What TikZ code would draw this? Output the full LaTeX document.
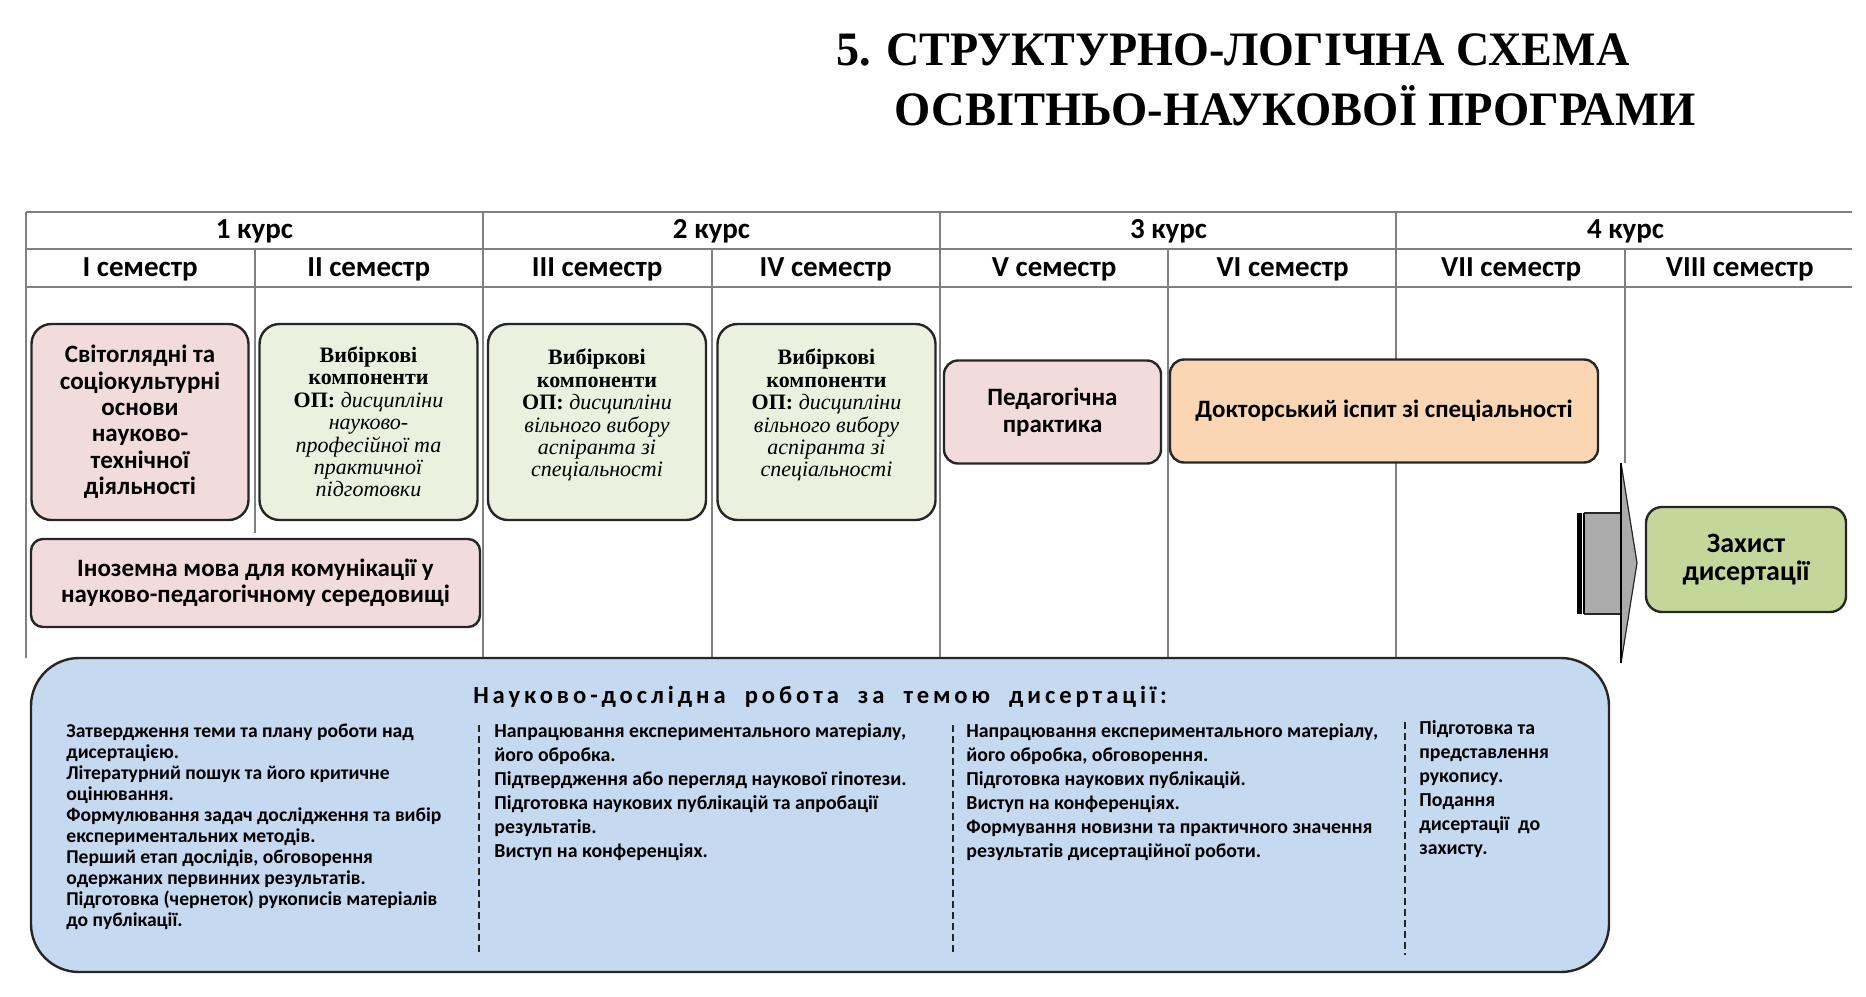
\documentclass[tikz,border=0pt]{standalone}
\usepackage{fontspec}
\setmainfont{Liberation Serif}
\setsansfont{Carlito}
\newfontfamily\spacedsans[LetterSpace=16]{Carlito}
\usepackage{graphicx}
\usetikzlibrary{positioning, calc}
\definecolor{pinkModule}{HTML}{F2DCDB}
\definecolor{greenElective}{HTML}{EBF1DE}
\definecolor{peachExam}{HTML}{FAD6B4}
\definecolor{blueResearch}{HTML}{C5D9F1}
\definecolor{greenDefense}{HTML}{C4D79B}
\definecolor{gridLine}{HTML}{808080}
\definecolor{arrowGray}{HTML}{ABABAB}
\definecolor{edgeDark}{HTML}{262626}
\newcommand{\vybirHead}{\textbf{Вибіркові}\\\textbf{компоненти}\\\textbf{ОП:}}

\begin{document}
\begin{tikzpicture}[x=0.5pt, y=-0.5pt,
        grid/.style={gridLine, line width=1pt},
        head/.style={font=\sffamily\bfseries\fontsize{14.5}{16}\selectfont, inner sep=0pt},
        module/.style={draw=edgeDark, fill=pinkModule, line width=1.2pt, rounded corners=10pt,
            align=center, inner sep=0pt, font=\sffamily\bfseries\fontsize{12.5}{13.2}\selectfont},
        elective/.style={module, fill=greenElective, font=\rmfamily\fontsize{11}{11.2}\selectfont},
        research/.style={draw=edgeDark, fill=blueResearch, line width=1.2pt, rounded corners=24pt},
        coltext/.style={anchor=north west, align=left, inner sep=0pt,
            font=\sffamily\bfseries\fontsize{9.9}{12}\selectfont},
        sep/.style={edgeDark, line width=0.8pt, dash pattern=on 3.5pt off 2pt}
    ]
        \useasboundingbox (0,0) rectangle (1866,996);

        % title
        \node[font=\rmfamily\bfseries\fontsize{24}{26}\selectfont, inner sep=0pt] (titul1) at (1233,50)
            {\scalebox{0.96}[1]{5. СТРУКТУРНО-ЛОГІЧНА СХЕМА}};
        \node[font=\rmfamily\bfseries\fontsize{24}{26}\selectfont, inner sep=0pt] (titul2) at (1295,106)
            {\scalebox{0.97}[1]{ОСВІТНЬО-НАУКОВОЇ ПРОГРАМИ}};

        % table grid
        \draw[grid, line width=1.4pt] (26,212) -- (1852,212);
        \draw[grid] (26,249) -- (1852,249);
        \draw[grid] (26,287) -- (1852,287);
        \foreach \x in {26,483,940,1396}
            \draw[grid] (\x,212) -- (\x,658);
        \foreach \x in {712,1168}
            \draw[grid] (\x,249) -- (\x,658);
        \draw[grid] (255,249) -- (255,533);
        \draw[grid] (1625,249) -- (1625,463);

        \node[head] (kurs1) at (254.5,231) {1 курс};
        \node[head] (kurs2) at (711.5,231) {2 курс};
        \node[head] (kurs3) at (1168.5,231) {3 курс};
        \node[head] (kurs4) at (1625.5,231) {4 курс};
        \node[head] (sem1) at (140.2,269) {I семестр};
        \node[head] (sem2) at (368.7,269) {II семестр};
        \node[head] (sem3) at (597.2,269) {III семестр};
        \node[head] (sem4) at (825.7,269) {IV семестр};
        \node[head] (sem5) at (1054.2,269) {V семестр};
        \node[head] (sem6) at (1282.7,269) {VI семестр};
        \node[head] (sem7) at (1511.2,269) {VII семестр};
        \node[head] (sem8) at (1739.7,269) {VIII семестр};

        % disciplines
        \node[module, minimum width=108.5pt, minimum height=98pt] (svit) at (140,422)
            {Світоглядні та\\соціокультурні\\основи\\науково-\\технічної\\діяльності};
        \node[elective, minimum width=109pt, minimum height=98pt] (vyb1) at (368.5,422)
            {\vybirHead{} \textit{дисципліни}\\\textit{науково-}\\\textit{професійної та}\\\textit{практичної}\\\textit{підготовки}};
        \node[elective, minimum width=109pt, minimum height=98pt, text depth=9pt] (vyb2) at (597,422)
            {\vybirHead{} \textit{дисципліни}\\\textit{вільного вибору}\\\textit{аспіранта зі}\\\textit{спеціальності}};
        \node[elective, minimum width=109pt, minimum height=98pt, text depth=9pt] (vyb3) at (826.5,422)
            {\vybirHead{} \textit{дисципліни}\\\textit{вільного вибору}\\\textit{аспіранта зі}\\\textit{спеціальності}};
        \node[module, minimum width=224.5pt, minimum height=44pt, rounded corners=6pt] (inoz) at (255.5,583)
            {Іноземна мова для комунікації у\\науково-педагогічному середовищі};
        \node[module, minimum width=108.5pt, minimum height=51.5pt, rounded corners=7pt] (ped) at (1052.5,412)
            {Педагогічна\\практика};
        \node[module, fill=peachExam, minimum width=214pt, minimum height=51.5pt, rounded corners=7pt] (dokt) at (1384,411)
            {Докторський іспит зі спеціальності};

        % arrow to defence
        \fill[arrowGray] (1584,513) rectangle (1621,614);
        \draw[edgeDark, line width=0.6pt] (1584,513) -- (1621,513) (1584,614) -- (1621,614);
        \fill[black] (1577,513) rectangle (1582,614);
        \draw[black, line width=0.8pt] (1584,513) -- (1584,614);
        \draw[edgeDark, line width=0.6pt, fill=arrowGray] (1621,463) -- (1637,563) -- (1621,663) -- cycle;
        \draw[black, line width=1.4pt] (1621,463) -- (1621,663);

        \node[module, fill=greenDefense, minimum width=100pt, minimum height=52.5pt, rounded corners=8pt,
            font=\sffamily\bfseries\fontsize{14}{14.3}\selectfont] (zakh) at (1746,559.5)
            {Захист\\дисертації};

        % research work
        \node[research, minimum width=789pt, minimum height=157pt] (nauk) at (820,815) {};
        \node[font=\spacedsans\bfseries\fontsize{12.3}{14}\selectfont, inner sep=0pt] (naukTitle) at (820,697)
            {Науково-дослідна\ \ робота\ \ за\ \ темою\ \ дисертації:};

        \node[coltext, font=\sffamily\bfseries\fontsize{9.8}{10.5}\selectfont] (etap1) at (66,724)
            {Затвердження теми та плану роботи над\\дисертацією.\\Літературний пошук та його критичне\\оцінювання.\\Формулювання задач дослідження та вибір\\експериментальних методів.\\Перший етап дослідів, обговорення\\одержаних первинних результатів.\\Підготовка (чернеток) рукописів матеріалів\\до публікації.};
        \node[coltext] (etap2) at (494,723)
            {Напрацювання експериментального матеріалу,\\його обробка.\\Підтвердження або перегляд наукової гіпотези.\\Підготовка наукових публікацій та апробації\\результатів.\\Виступ на конференціях.};
        \node[coltext] (etap3) at (966,723)
            {Напрацювання експериментального матеріалу,\\його обробка, обговорення.\\Підготовка наукових публікацій.\\Виступ на конференціях.\\Формування новизни та практичного значення\\результатів дисертаційної роботи.};
        \node[coltext] (etap4) at (1419,720)
            {Підготовка та\\представлення\\рукопису.\\Подання\\дисертації\ \ до\\захисту.};

        \draw[sep] (479,725) -- (479,955);
        \draw[sep] (953,725) -- (953,955);
        \draw[sep] (1405,722) -- (1405,955);
    \end{tikzpicture}
\end{document}
